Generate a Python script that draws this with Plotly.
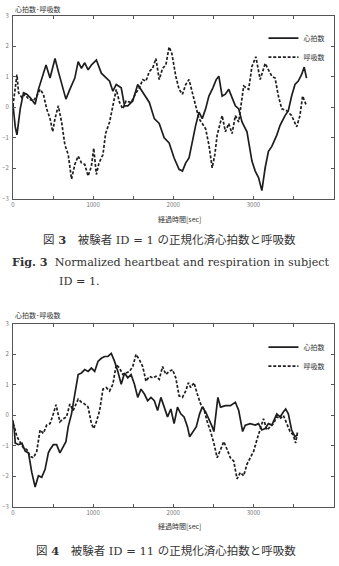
import plotly.graph_objects as go

# ---------------- Data (Fig. 3, subject ID = 1) ----------------
t3_hr = [0, 29, 50, 91, 132, 173, 215, 277, 318, 359, 413, 463, 525, 566, 607, 661, 710, 772, 814, 855,
         896, 938, 979, 1041, 1103, 1165, 1206, 1247, 1289, 1351, 1392, 1433, 1495, 1557, 1598, 1640, 1702,
         1764, 1825, 1887, 1949, 2011, 2073, 2115, 2156, 2197, 2238, 2280, 2321, 2362, 2404, 2445, 2495,
         2536, 2569, 2610, 2651, 2693, 2734, 2775, 2817, 2858, 2920, 2982, 3023, 3064, 3106, 3147, 3188,
         3230, 3292, 3333, 3395, 3436, 3477, 3519, 3560, 3601, 3634, 3663]
hr3 = [0.10, -0.64, -0.90, -0.05, 0.48, 0.43, 0.32, 0.10, 0.59, 0.91, 1.39, 0.96, 1.60, 1.18, 0.80, 0.27,
       0.59, 0.96, 1.50, 1.28, 1.46, 1.23, 1.39, 1.55, 1.12, 0.96, 0.86, 0.53, 0.75, 0.64, 0.05, 0.05, 0.21,
       0.75, 0.59, 0.43, 0.16, -0.37, -0.53, -1.00, -1.17, -1.66, -2.03, -2.09, -1.82, -1.66, -1.12, -0.59,
       -0.16, -0.37, -0.05, 0.37, 0.64, 0.91, 1.02, 0.37, 0.43, 0.59, 0.32, 0.05, -0.05, -0.48, -0.80,
       -1.76, -2.09, -2.30, -2.73, -1.98, -1.44, -1.28, -0.91, -0.59, -0.27, -0.11, 0.37, 0.75, 0.86,
       1.07, 1.32, 0.96]

t3_rr = [0, 29, 50, 70, 112, 153, 194, 256, 297, 339, 380, 421, 463, 496, 525, 566, 607, 648, 690, 731,
         772, 814, 855, 896, 938, 979, 1008, 1041, 1074, 1123, 1156, 1206, 1247, 1289, 1330, 1371, 1412,
         1474, 1536, 1578, 1619, 1660, 1702, 1743, 1784, 1825, 1867, 1908, 1949, 1982, 2032, 2073, 2115,
         2156, 2197, 2238, 2280, 2321, 2362, 2404, 2445, 2486, 2519, 2548, 2610, 2651, 2693, 2734, 2775,
         2817, 2879, 2941, 2982, 3031, 3085, 3147, 3188, 3230, 3271, 3312, 3354, 3416, 3477, 3540, 3581,
         3614, 3663]
rr3 = [0.05, 0.70, 1.07, 0.48, 0.32, 0.43, 0.27, 0.21, 0.37, 0.59, 0.43, -0.05, -0.37, -0.80, -0.37, 0.05,
       -0.48, -1.23, -1.55, -2.35, -1.87, -1.60, -1.82, -1.87, -2.25, -1.93, -1.34, -2.20, -1.82, -1.55,
       -0.86, -0.48, 0.05, 0.59, 0.16, -0.05, 0.21, 0.16, 0.48, 0.64, 0.91, 0.86, 1.18, 1.28, 1.60, 0.91,
       1.28, 1.39, 1.98, 1.77, 1.02, 0.59, 0.43, 0.75, 0.91, 0.48, 0.11, -0.37, -0.53, -0.70, -1.23, -1.98,
       -1.55, -0.91, -0.27, -0.80, -0.53, -0.86, -0.27, -0.48, 0.70, 0.59, 1.34, 1.66, 0.91, 1.44, 1.23,
       1.02, 0.96, 0.37, -0.05, -0.11, -0.27, -0.64, -0.27, 0.37, 0.05]

# ---------------- Data (Fig. 4, subject ID = 11) ----------------
t4_hr = [0, 17, 29, 70, 112, 153, 194, 235, 277, 318, 359, 401, 442, 463, 504, 545, 586, 628, 661, 690,
         731, 772, 814, 855, 896, 938, 979, 1020, 1061, 1103, 1144, 1185, 1227, 1268, 1309, 1351, 1392,
         1433, 1474, 1516, 1557, 1598, 1640, 1681, 1722, 1764, 1805, 1846, 1887, 1929, 1970, 2011, 2053,
         2094, 2135, 2177, 2205, 2247, 2288, 2329, 2362, 2404, 2445, 2486, 2507, 2536, 2557, 2590, 2651,
         2713, 2775, 2817, 2837, 2866, 2899, 2961, 3023, 3064, 3106, 3147, 3188, 3230, 3292, 3333, 3374,
         3403, 3436, 3477, 3519, 3552]
hr4 = [-0.16, -0.48, -0.91, -0.96, -0.91, -1.17, -1.23, -1.87, -2.35, -1.98, -2.03, -1.77, -1.23, -1.12,
       -0.96, -0.96, -1.23, -1.02, -0.86, -0.37, 0.05, 0.70, 1.34, 1.39, 1.50, 1.44, 1.55, 1.44, 1.77, 1.87,
       1.93, 1.93, 2.03, 1.77, 1.44, 1.02, 1.39, 1.23, 1.34, 1.02, 0.59, 0.86, 0.70, 0.48, 0.59, 0.48, 0.16,
       0.59, 0.27, -0.05, 0.21, -0.27, 0.27, 0.05, -0.05, -0.37, -0.70, -0.53, -0.37, 0.05, 0.27, 0.11,
       -0.11, -0.37, -0.53, 0.27, 0.59, 0.27, 0.32, 0.32, 0.43, 0.16, -0.16, -0.53, -0.32, -0.27, -0.32,
       -0.27, -0.48, -0.43, -0.27, -0.32, 0.05, -0.05, 0.11, 0.21, 0.05, -0.48, -0.70, -0.64]

t4_rr = [0, 17, 50, 91, 132, 173, 215, 256, 297, 339, 380, 421, 463, 504, 537, 586, 628, 669, 710, 752,
         814, 855, 896, 938, 979, 1008, 1041, 1082, 1123, 1165, 1206, 1247, 1289, 1330, 1371, 1412, 1454,
         1495, 1536, 1578, 1619, 1660, 1702, 1743, 1784, 1825, 1867, 1908, 1949, 1991, 2032, 2073, 2115,
         2156, 2189, 2218, 2259, 2300, 2342, 2383, 2424, 2466, 2507, 2548, 2590, 2631, 2672, 2713, 2755,
         2796, 2837, 2879, 2920, 2961, 3003, 3044, 3085, 3126, 3168, 3209, 3250, 3292, 3333, 3374, 3416,
         3457, 3498, 3527, 3552]
rr4 = [-0.27, -0.37, -0.70, -0.91, -1.07, -1.12, -1.34, -1.39, -1.18, -0.48, -0.59, -0.32, -0.27, 0.05,
       0.35, -0.21, -0.11, -0.05, 0.37, 0.16, 0.53, 0.43, 0.37, 0.27, -0.27, -0.43, -0.21, 0.16, 0.86, 0.91,
       0.80, 1.02, 1.66, 1.55, 1.34, 1.39, 1.44, 1.60, 2.00, 1.82, 1.60, 1.12, 1.28, 1.23, 1.28, 1.18, 1.60,
       1.34, 1.44, 1.50, 1.23, 0.64, 0.59, 0.80, 1.07, 0.91, 1.07, 0.70, 0.37, 0.21, -0.21, -0.53, -0.91,
       -1.39, -1.12, -0.86, -1.12, -1.39, -1.50, -2.08, -1.87, -1.98, -1.60, -1.39, -1.18, -0.80, -0.48,
       -0.11, -0.48, -0.37, -0.27, -0.05, -0.11, 0.00, -0.27, -0.53, -0.64, -0.91, -0.53]

series_names = ["心拍数", "呼吸数"]
x_tickvals = [0, 500, 1000, 1500, 2000, 2500, 3000, 3500, 4000]
x_ticktext = ["0", "", "1000", "", "2000", "", "3000", "", "4000"]
y_tickvals = [-3, -2, -1, 0, 1, 2, 3]
y_title = "心拍数･呼吸数"
x_title = "経過時間[sec]"

W, H = 339, 566
def px_x(p):
    return p / W
def px_y(p):
    return 1 - p / H

JP = "Noto Sans CJK JP"
SERIF = "DejaVu Serif, Noto Sans CJK JP"
hr_line = dict(color="#1e1e1e", width=1.7)
rr_line = dict(color="#1e1e1e", width=1.7, dash="3px,1.8px")

fig = go.Figure()
fig.add_trace(go.Scatter(x=t3_hr, y=hr3, mode="lines", name=series_names[0], line=hr_line,
                         xaxis="x", yaxis="y", legend="legend"))
fig.add_trace(go.Scatter(x=t3_rr, y=rr3, mode="lines", name=series_names[1], line=rr_line,
                         xaxis="x", yaxis="y", legend="legend"))
fig.add_trace(go.Scatter(x=t4_hr, y=hr4, mode="lines", name=series_names[0], line=hr_line,
                         xaxis="x2", yaxis="y2", legend="legend2"))
fig.add_trace(go.Scatter(x=t4_rr, y=rr4, mode="lines", name=series_names[1], line=rr_line,
                         xaxis="x2", yaxis="y2", legend="legend2"))

xdom = [px_x(11), px_x(333.5)]
common_x = dict(range=[0, 4000], tickvals=x_tickvals, ticktext=x_ticktext, ticks="inside", ticklen=3,
                tickcolor="#555", showline=True, linecolor="#555", linewidth=1, mirror="allticks",
                showgrid=False, zeroline=False, tickfont=dict(family=JP, size=6, color="#777"),
                domain=xdom)
common_y = dict(range=[-3, 3], tickvals=y_tickvals, ticks="inside", ticklen=3, tickcolor="#555",
                showline=True, linecolor="#555", linewidth=1, mirror="allticks", showgrid=False,
                zeroline=False, tickfont=dict(family=JP, size=6, color="#777"), ticklabelstandoff=2)

fig.update_layout(
    width=W, height=H, margin=dict(l=0, r=0, t=0, b=0),
    paper_bgcolor="white", plot_bgcolor="white",
    xaxis=dict(common_x, anchor="y"),
    yaxis=dict(common_y, domain=[px_y(197), px_y(11)], anchor="x"),
    xaxis2=dict(common_x, anchor="y2"),
    yaxis2=dict(common_y, domain=[px_y(510), px_y(324)], anchor="x2"),
    legend=dict(x=px_x(263), y=px_y(19), xanchor="left", yanchor="top", bgcolor="rgba(0,0,0,0)",
                font=dict(family=JP, size=7, color="#333"), tracegroupgap=0),
    legend2=dict(x=px_x(263), y=px_y(333), xanchor="left", yanchor="top", bgcolor="rgba(0,0,0,0)",
                 font=dict(family=JP, size=7, color="#333"), tracegroupgap=0),
    showlegend=True,
)

ann = []
# axis titles
for ytop, yx in [(4, 217), (315, 529)]:
    ann.append(dict(text=y_title, x=px_x(11), y=px_y(ytop), xref="paper", yref="paper",
                    xanchor="left", yanchor="middle", showarrow=False,
                    font=dict(family=JP, size=7, color="#333")))
    ann.append(dict(text=x_title, x=px_x(179), y=px_y(yx), xref="paper", yref="paper",
                    xanchor="center", yanchor="middle", showarrow=False,
                    font=dict(family=JP, size=7, color="#333")))

# captions
ann.append(dict(text="図 <b>3</b>　被験者 ID = 1 の正規化済心拍数と呼吸数", x=px_x(168), y=px_y(239),
                xref="paper", yref="paper", xanchor="center", yanchor="middle", showarrow=False,
                font=dict(family=SERIF, size=11.5, color="#333")))
ann.append(dict(text="<b>Fig. 3</b>  Normalized heartbeat and respiration in subject", x=px_x(8),
                y=px_y(261), xref="paper", yref="paper", xanchor="left", yanchor="middle",
                showarrow=False, font=dict(family=SERIF, size=11.2, color="#333")))
ann.append(dict(text="ID = 1.", x=px_x(55), y=px_y(281), xref="paper", yref="paper",
                xanchor="left", yanchor="middle", showarrow=False,
                font=dict(family=SERIF, size=11.2, color="#333")))
ann.append(dict(text="図 <b>4</b>　被験者 ID = 11 の正規化済心拍数と呼吸数", x=px_x(165), y=px_y(555),
                xref="paper", yref="paper", xanchor="center", yanchor="middle", showarrow=False,
                font=dict(family=SERIF, size=11.5, color="#333")))
fig.update_layout(annotations=ann)

fig.write_html("out.html")
